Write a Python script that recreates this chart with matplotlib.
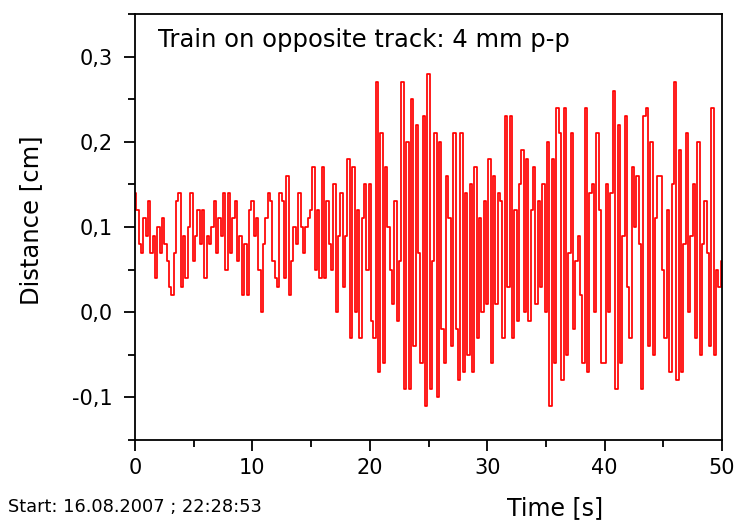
import numpy as np
import matplotlib
matplotlib.use("Agg")
import matplotlib.pyplot as plt
from matplotlib.ticker import MultipleLocator, FuncFormatter

# sample interval of the recorded signal [s]
dt = 0.2

seg_0_8 = [0.14, 0.12, 0.08, 0.07, 0.11, 0.09, 0.13, 0.07, 0.09, 0.04,
           0.10, 0.07, 0.11, 0.08, 0.06, 0.03, 0.02, 0.07, 0.13, 0.14,
           0.03, 0.09, 0.04, 0.10, 0.14, 0.06, 0.09, 0.12, 0.08, 0.12,
           0.04, 0.09, 0.08, 0.10, 0.13, 0.07, 0.11, 0.09, 0.14, 0.05]
seg_8_16 = [0.14, 0.07, 0.11, 0.13, 0.06, 0.09, 0.02, 0.08, 0.02, 0.12,
            0.13, 0.09, 0.11, 0.05, 0.00, 0.08, 0.11, 0.14, 0.13, 0.06,
            0.04, 0.03, 0.14, 0.13, 0.04, 0.16, 0.02, 0.06, 0.10, 0.08,
            0.14, 0.10, 0.07, 0.10, 0.11, 0.12, 0.17, 0.05, 0.12, 0.04]
seg_16_24 = [0.17, 0.04, 0.13, 0.08, 0.05, 0.15, 0.00, 0.09, 0.14, 0.03,
             0.09, 0.18, -0.03, 0.17, 0.00, 0.12, -0.03, 0.11, 0.15, 0.05,
             0.15, -0.01, -0.03, 0.27, -0.07, 0.21, -0.06, 0.17, 0.10, 0.05,
             0.01, 0.13, -0.01, 0.06, 0.27, -0.09, 0.20, -0.09, 0.25, -0.04]
seg_24_32 = [0.22, 0.07, -0.06, 0.23, -0.11, 0.28, -0.09, 0.06, 0.21, -0.10,
             0.20, -0.02, -0.06, 0.16, 0.11, -0.04, 0.21, -0.02, -0.08, 0.21,
             -0.07, 0.14, -0.05, 0.15, -0.07, 0.17, -0.03, 0.11, 0.00, 0.13,
             0.01, 0.18, -0.06, 0.16, 0.01, 0.14, 0.13, -0.03, 0.23, 0.03]
seg_32_40 = [0.23, -0.03, 0.12, -0.01, 0.15, 0.19, 0.00, 0.18, -0.01, 0.12,
             0.17, 0.01, 0.13, 0.03, 0.15, 0.00, 0.20, -0.11, 0.18, -0.06,
             0.24, 0.21, -0.08, 0.24, -0.05, 0.07, 0.21, -0.02, 0.06, 0.09,
             0.02, -0.06, 0.24, -0.07, 0.14, 0.15, 0.00, 0.21, 0.12, -0.06]
seg_40_50 = [-0.06, 0.15, 0.00, 0.14, 0.26, -0.09, 0.22, -0.06, 0.09, 0.23,
             0.03, -0.03, 0.17, 0.10, 0.16, 0.08, -0.09, 0.23, 0.24, -0.04,
             0.20, -0.05, 0.11, 0.16, 0.16, 0.05, -0.03, 0.12, -0.07, 0.15,
             0.27, -0.08, 0.19, -0.07, 0.08, 0.21, 0.00, 0.09, 0.15, -0.03,
             0.20, -0.05, 0.08, 0.13, 0.07, -0.04, 0.24, -0.05, 0.05, 0.03,
             0.06]

distance = np.array(seg_0_8 + seg_8_16 + seg_16_24 + seg_24_32 + seg_32_40 + seg_40_50)
time = np.arange(len(distance)) * dt

x_ticks = [0, 10, 20, 30, 40, 50]
y_ticks = [-0.1, 0.0, 0.1, 0.2, 0.3]

title_text = "Train on opposite track: 4 mm p-p"
start_text = "Start: 16.08.2007 ; 22:28:53"
x_label = "Time [s]"
y_label = "Distance [cm]"

plt.rcParams['font.family'] = ['DejaVu Sans']

W, H = 734, 521
fig = plt.figure(figsize=(W / 100, H / 100), dpi=100)
ax = fig.add_axes([135 / W, 1 - 440 / H, (722 - 135) / W, (440 - 14) / H])

ax.plot(time, distance, color='#ff0000', linewidth=1.25, drawstyle='steps-mid')

ax.set_xlim(0, 50)
ax.set_ylim(-0.15, 0.35)
ax.set_xticks(x_ticks)
ax.set_yticks(y_ticks)
ax.xaxis.set_minor_locator(MultipleLocator(5))
ax.yaxis.set_minor_locator(MultipleLocator(0.05))
ax.yaxis.set_major_formatter(FuncFormatter(lambda v, p: f"{v:.1f}".replace('.', ',')))
ax.xaxis.set_major_formatter(FuncFormatter(lambda v, p: f"{v:.0f}"))

ax.tick_params(axis='both', which='major', direction='out', length=8, width=1.3,
               labelsize=15, colors='black')
ax.tick_params(axis='y', which='major', pad=8)
ax.tick_params(axis='x', which='major', pad=5)
ax.tick_params(axis='both', which='minor', direction='out', length=5, width=1.3)
ax.tick_params(top=False, right=False, which='both')
for s in ax.spines.values():
    s.set_linewidth(1.3)
    s.set_color('black')

fig.text(31 / W, 1 - 220 / H, y_label, fontsize=17.5, rotation=90,
         ha='center', va='center')
fig.text(555 / W, 1 - 515 / H, x_label, fontsize=17, ha='center', va='baseline')

fig.text(158 / W, 1 - 47 / H, title_text, fontsize=17.5, va='baseline', ha='left')
fig.text(8 / W, 1 - 512 / H, start_text, fontsize=12.8, va='baseline', ha='left')

fig.savefig("out.png", dpi=100)
